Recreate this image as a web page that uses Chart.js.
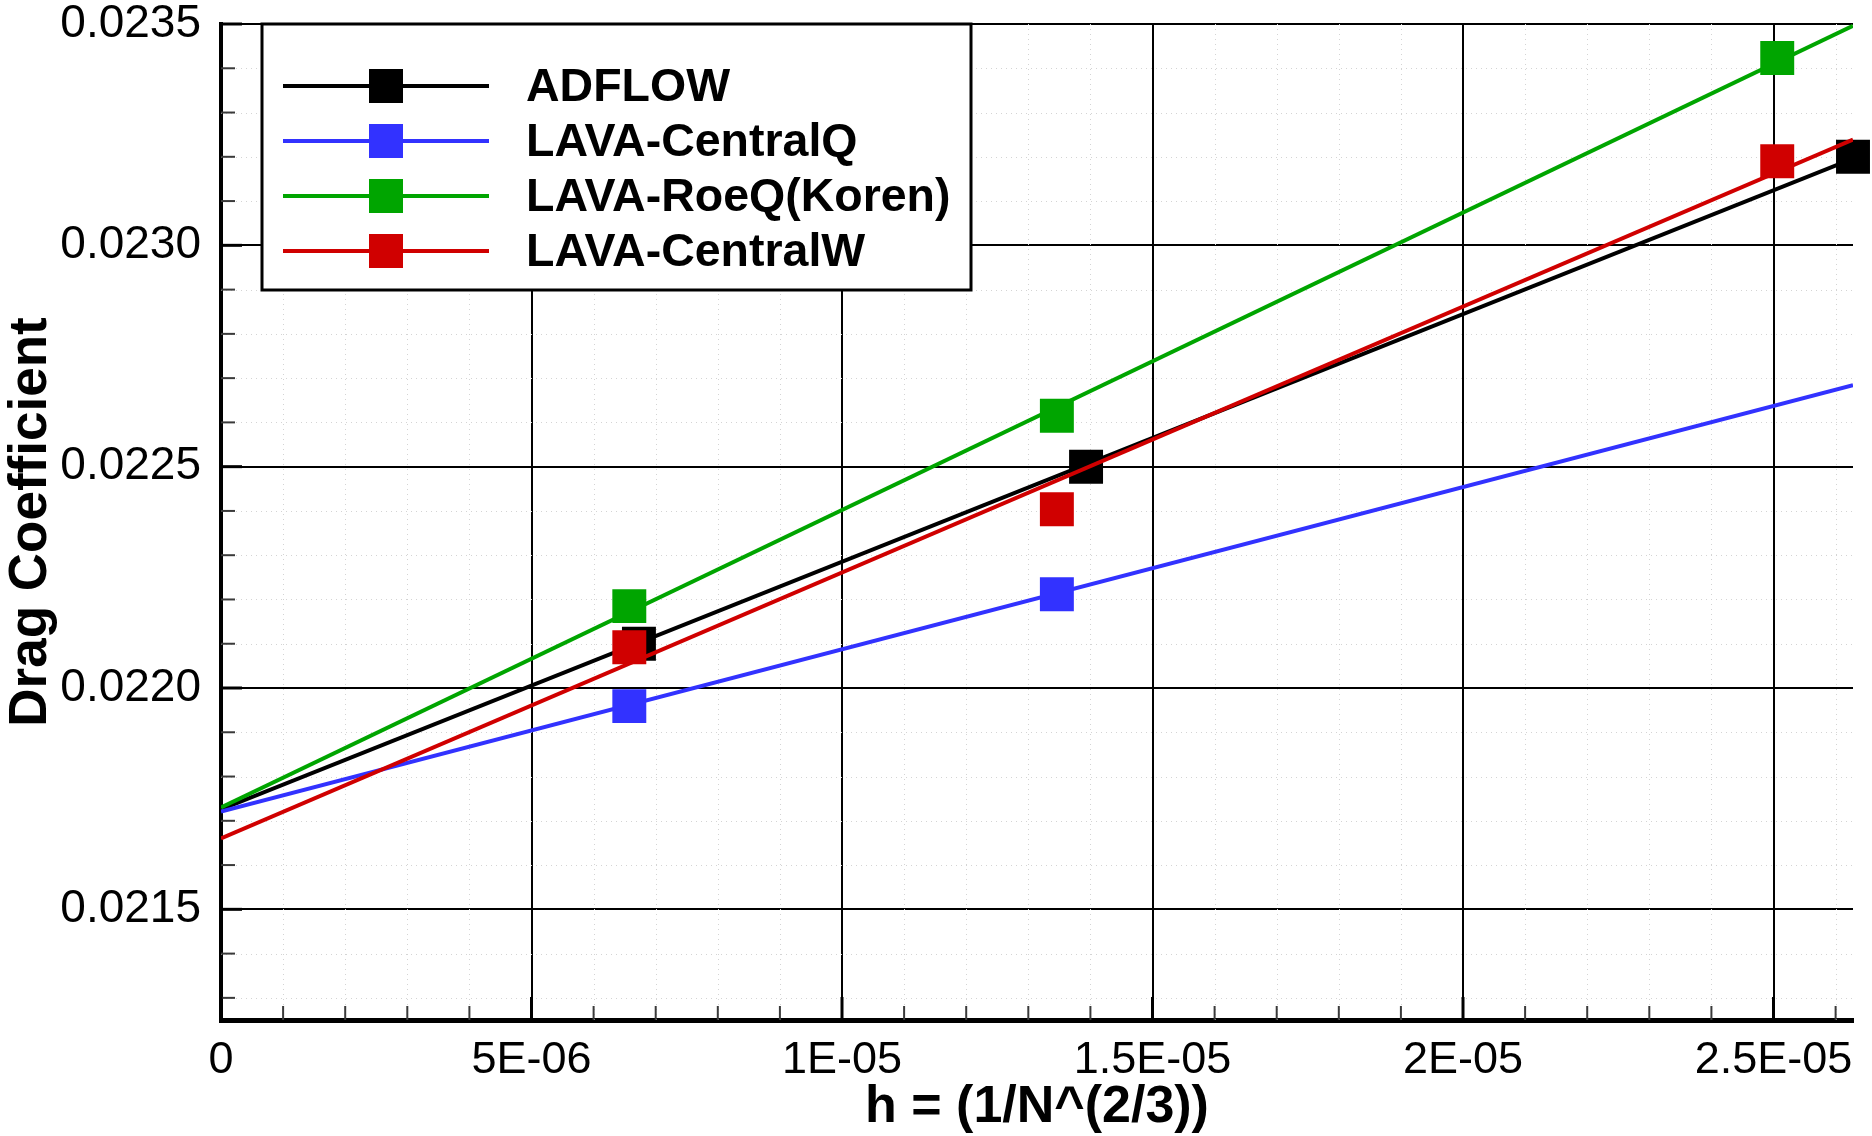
<!DOCTYPE html>
<html>
<head>
<meta charset="utf-8">
<title>Drag Coefficient</title>
<script src="https://cdn.jsdelivr.net/npm/chart.js@4.4.1/dist/chart.umd.min.js"></script>
<style>
    html, body { margin: 0; padding: 0; background: #ffffff; }
    #chartBox { width: 1872px; height: 1136px; position: relative; }
</style>
</head>
<body>
<div id="chartBox"><canvas id="dragChart"></canvas></div>
<script>
// Series names and colours (legend order)
const seriesNames = ['ADFLOW', 'LAVA-CentralQ', 'LAVA-RoeQ(Koren)', 'LAVA-CentralW'];
const seriesColors = ['#000000', '#3232ff', '#00a500', '#d00000'];

// Grid spacing h and drag coefficient per solver
const hAdflow = [6.73e-6, 1.393e-5, 2.628e-5];
const cdAdflow = [0.02210, 0.02250, 0.02320];
const hCentralQ = [6.575e-6, 1.346e-5];
const cdCentralQ = [0.021959, 0.022212];
const hRoeQ = [6.575e-6, 1.346e-5, 2.506e-5];
const cdRoeQ = [0.022185, 0.022615, 0.023423];
const hCentralW = [6.575e-6, 1.346e-5, 2.506e-5];
const cdCentralW = [0.022092, 0.022404, 0.023190];

// Extrapolation lines: value at h = 0 and at the right end of the axis
const fitH = [0, 2.628e-5];
const fitAdflow = [0.021726, 0.023196];
const fitCentralQ = [0.021721, 0.022684];
const fitRoeQ = [0.021730, 0.023496];
const fitCentralW = [0.021660, 0.023239];

// Axes
const xMin = 0;
const xMax = 2.628e-5;
const yMin = 0.02125;
const yMax = 0.0235;
const xTicks = [0, 5e-6, 1e-5, 1.5e-5, 2e-5, 2.5e-5];
const xTickLabels = ['0', '5E-06', '1E-05', '1.5E-05', '2E-05', '2.5E-05'];
const yTicks = [0.0215, 0.0220, 0.0225, 0.0230, 0.0235];
const yTickLabels = ['0.0215', '0.0220', '0.0225', '0.0230', '0.0235'];
const minorPerMajor = 5;

const FONT = "'Liberation Sans', Arial, Helvetica, sans-serif";

function toPoints(xs, ys) {
    return xs.map((x, i) => ({ x: x, y: ys[i] }));
}

// minor tick values between (and beyond) the major ticks, inside [lo, hi]
function minorValues(majors, lo, hi) {
    const step = (majors[1] - majors[0]) / minorPerMajor;
    const out = [];
    const kStart = Math.ceil((lo - majors[0]) / step - 1e-6);
    const kEnd = Math.floor((hi - majors[0]) / step + 1e-6);
    for (let k = kStart; k <= kEnd; k++) {
        if (k % minorPerMajor === 0) continue;
        out.push(majors[0] + k * step);
    }
    return out;
}

// dotted minor grid + inward tick marks on the left and bottom axes
const axisDecor = {
    id: 'axisDecor',
    beforeDatasetsDraw(chart) {
        const { ctx, chartArea } = chart;
        const xs = chart.scales.x;
        const ys = chart.scales.y;
        const xMinor = minorValues(xTicks, xMin, xMax);
        const yMinor = minorValues(yTicks, yMin, yMax);

        ctx.save();
        ctx.strokeStyle = '#d4d4d4';
        ctx.lineWidth = 1;
        ctx.setLineDash([1, 4]);
        xMinor.forEach(v => {
            const px = Math.round(xs.getPixelForValue(v)) + 0.5;
            ctx.beginPath();
            ctx.moveTo(px, chartArea.top);
            ctx.lineTo(px, chartArea.bottom);
            ctx.stroke();
        });
        yMinor.forEach(v => {
            const py = Math.round(ys.getPixelForValue(v)) + 0.5;
            ctx.beginPath();
            ctx.moveTo(chartArea.left, py);
            ctx.lineTo(chartArea.right, py);
            ctx.stroke();
        });
        ctx.setLineDash([]);

        // minor ticks
        ctx.strokeStyle = '#3a3a3a';
        ctx.lineWidth = 2;
        yMinor.forEach(v => {
            const py = ys.getPixelForValue(v);
            ctx.beginPath();
            ctx.moveTo(chartArea.left, py);
            ctx.lineTo(chartArea.left + 14, py);
            ctx.stroke();
        });
        xMinor.forEach(v => {
            const px = xs.getPixelForValue(v);
            ctx.beginPath();
            ctx.moveTo(px, chartArea.bottom);
            ctx.lineTo(px, chartArea.bottom - 14);
            ctx.stroke();
        });

        // major ticks
        ctx.strokeStyle = '#000000';
        ctx.lineWidth = 3;
        yTicks.forEach(v => {
            const py = ys.getPixelForValue(v);
            ctx.beginPath();
            ctx.moveTo(chartArea.left, py);
            ctx.lineTo(chartArea.left + 21, py);
            ctx.stroke();
        });
        xTicks.forEach(v => {
            const px = xs.getPixelForValue(v);
            ctx.beginPath();
            ctx.moveTo(px, chartArea.bottom);
            ctx.lineTo(px, chartArea.bottom - 23);
            ctx.stroke();
        });
        ctx.restore();
    }
};

// boxed legend in the upper left corner of the plot
const boxLegend = {
    id: 'boxLegend',
    afterDatasetsDraw(chart) {
        const ctx = chart.ctx;
        const box = { left: 262, top: 24, right: 971, bottom: 290 };
        const rowY = [86, 141, 196, 251];

        ctx.save();
        ctx.fillStyle = '#ffffff';
        ctx.fillRect(box.left, box.top, box.right - box.left, box.bottom - box.top);
        ctx.strokeStyle = '#000000';
        ctx.lineWidth = 3;
        ctx.strokeRect(box.left, box.top, box.right - box.left, box.bottom - box.top);

        seriesNames.forEach((name, i) => {
            const y = rowY[i];
            ctx.strokeStyle = seriesColors[i];
            ctx.lineWidth = 4;
            ctx.beginPath();
            ctx.moveTo(283, y);
            ctx.lineTo(489, y);
            ctx.stroke();

            ctx.fillStyle = seriesColors[i];
            ctx.fillRect(386 - 17, y - 17, 34, 34);

            ctx.fillStyle = '#000000';
            ctx.font = 'bold 46.5px ' + FONT;
            ctx.textAlign = 'left';
            ctx.textBaseline = 'alphabetic';
            ctx.fillText(name, 526, y + 15);
        });
        ctx.restore();
    }
};

function fitDataset(idx, xs, ys, order) {
    return {
        label: seriesNames[idx] + ' fit',
        data: toPoints(xs, ys),
        showLine: true,
        borderColor: seriesColors[idx],
        borderWidth: 4,
        pointRadius: 0,
        tension: 0,
        order: order
    };
}

function markerDataset(idx, xs, ys, order) {
    return {
        label: seriesNames[idx],
        data: toPoints(xs, ys),
        showLine: false,
        pointStyle: 'rect',
        pointRadius: 24,
        pointBorderWidth: 0,
        backgroundColor: seriesColors[idx],
        borderColor: seriesColors[idx],
        clip: false,
        order: order
    };
}

// higher order is painted first, so ADFLOW sits underneath and CentralW on top
const datasets = [
    fitDataset(0, fitH, fitAdflow, 8),
    markerDataset(0, hAdflow, cdAdflow, 7),
    fitDataset(1, fitH, fitCentralQ, 6),
    markerDataset(1, hCentralQ, cdCentralQ, 5),
    fitDataset(2, fitH, fitRoeQ, 4),
    markerDataset(2, hRoeQ, cdRoeQ, 3),
    fitDataset(3, fitH, fitCentralW, 2),
    markerDataset(3, hCentralW, cdCentralW, 1)
];

Chart.defaults.font.family = FONT;
Chart.defaults.color = '#000000';

const ctx = document.getElementById('dragChart').getContext('2d');
const dragChart = new Chart(ctx, {
    type: 'scatter',
    data: { datasets: datasets },
    options: {
        responsive: true,
        maintainAspectRatio: false,
        animation: false,
        events: [],
        layout: {
            autoPadding: false,
            padding: { top: 24, right: 19, bottom: 0, left: 0 }
        },
        scales: {
            x: {
                type: 'linear',
                position: 'bottom',
                min: xMin,
                max: xMax,
                afterBuildTicks: (scale) => { scale.ticks = xTicks.map(v => ({ value: v })); },
                afterFit: (scale) => {
                    scale.height = 116;
                    scale.paddingLeft = 0;
                    scale.paddingRight = 0;
                },
                grid: { color: '#000000', lineWidth: 2, drawTicks: false },
                border: { display: true, color: '#000000', width: 5 },
                ticks: {
                    autoSkip: false,
                    maxRotation: 0,
                    padding: 14,
                    font: { size: 45 },
                    color: '#000000',
                    callback: (value, index) => xTickLabels[index]
                },
                title: {
                    display: true,
                    text: 'h = (1/N^(2/3))',
                    color: '#000000',
                    font: { size: 52, weight: 'bold' },
                    padding: { top: 0, bottom: -3 }
                }
            },
            y: {
                type: 'linear',
                position: 'left',
                min: yMin,
                max: yMax,
                afterBuildTicks: (scale) => { scale.ticks = yTicks.map(v => ({ value: v })); },
                afterFit: (scale) => {
                    scale.width = 221;
                    scale.paddingTop = 0;
                    scale.paddingBottom = 0;
                },
                grid: { color: '#000000', lineWidth: 2, drawTicks: false },
                border: { display: true, color: '#000000', width: 4 },
                ticks: {
                    autoSkip: false,
                    padding: 20,
                    font: { size: 46 },
                    color: '#000000',
                    callback: (value, index) => yTickLabels[index]
                },
                title: {
                    display: true,
                    text: 'Drag Coefficient',
                    color: '#000000',
                    font: { size: 53, weight: 'bold' },
                    padding: { top: 0, bottom: 0 }
                }
            }
        },
        plugins: {
            legend: { display: false },
            tooltip: { enabled: false }
        }
    },
    plugins: [axisDecor, boxLegend]
});
</script>
</body>
</html>
